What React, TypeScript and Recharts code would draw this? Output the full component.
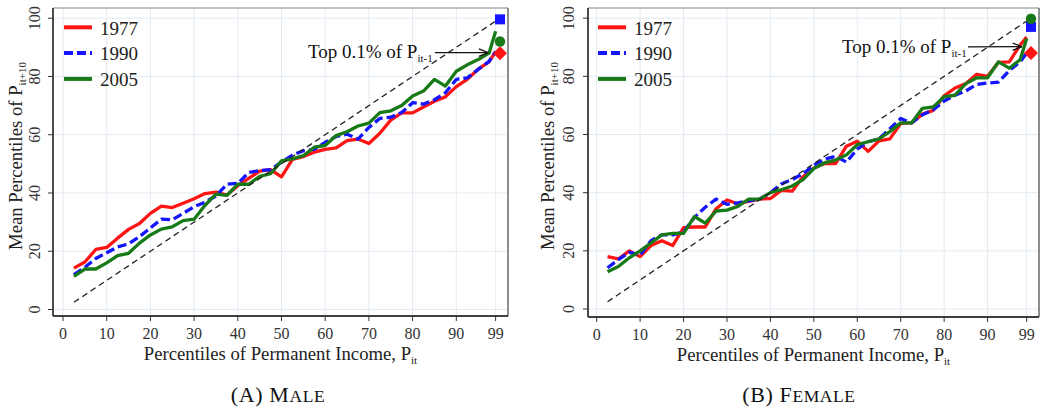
import React from 'react';
import {
  ComposedChart,
  Line,
  XAxis,
  YAxis,
  CartesianGrid,
  ReferenceLine,
  ReferenceDot,
  Legend,
  Label,
} from 'recharts';

// ---------- data ----------
const pctX = [2.5, 5, 7.5, 10, 12.5, 15, 17.5, 20, 22.5, 25, 27.5, 30, 32.5, 35, 37.5, 40, 42.5, 45, 47.5, 50,
  52.5, 55, 57.5, 60, 62.5, 65, 67.5, 70, 72.5, 75, 77.5, 80, 82.5, 85, 87.5, 90, 92.5, 95, 97.5, 99];

const male1977 = [14.2, 16.3, 20.6, 21.3, 24.5, 27.5, 29.5, 33, 35.5, 35, 36.5, 38, 39.8, 40.3, 39.3, 42.5, 45, 47.5, 48, 45.5,
  51.5, 52.5, 54, 55, 55.5, 58, 58.5, 57, 60.5, 65, 67.5, 67.5, 69.5, 71.5, 73, 76.5, 79, 82.5, 85, 88.5];
const male1990 = [12, 14.5, 17.5, 19.5, 21.5, 22.5, 25, 28, 31, 30.8, 33, 35.3, 36.8, 39, 43, 43.3, 47, 47.7, 48, 50.6,
  53, 54.5, 55, 57.4, 59.4, 60.2, 58.5, 62.5, 65.6, 66, 67.6, 71, 70.5, 72, 74.4, 79, 79.5, 82.4, 85.2, 88.5];
const male2005 = [11.4, 13.9, 13.9, 16, 18.5, 19.3, 22.8, 25.6, 27.6, 28.4, 30.5, 31, 35.8, 39.6, 39.2, 43, 43, 45.7, 46.6, 51,
  51.7, 52.8, 55.7, 56.3, 59.7, 61, 63, 64, 67.6, 68.2, 70, 73.3, 75, 79, 76.7, 81.8, 84, 85.8, 88, 95.5];

const female1977 = [18, 17.2, 20, 18, 21.8, 23.5, 21.8, 28, 28.2, 28.2, 34.5, 37.5, 36.2, 37, 37.8, 38, 40.8, 40.5, 45.5, 48.5,
  50, 50, 56, 57.7, 54.2, 57.8, 58.5, 63.8, 64, 67, 68.3, 73.3, 76, 77.5, 80.7, 80, 84.8, 85, 90.8, 93.5];
const female1990 = [14.2, 17, 19.5, 18.5, 23.5, 25.5, 25.5, 26.5, 31.5, 35, 37.8, 36, 36.5, 37.2, 37.8, 40, 43, 44.5, 46.5, 49.5,
  51.5, 52.5, 50.5, 55, 57.5, 58.5, 62, 65.5, 64, 66.8, 68.5, 71.5, 73.5, 75, 77.2, 77.7, 78, 82, 85, 88];
const female2005 = [12.8, 14.6, 17.6, 20, 22.7, 25.5, 26, 26, 31.8, 29.5, 33.7, 34, 35.3, 37.8, 37.8, 40, 41, 42.3, 44.5, 48.3,
  50.3, 51.2, 53, 56.5, 57.5, 58.5, 61, 64, 64, 69, 69.5, 73, 73.5, 77.5, 79.5, 79.5, 85, 82.8, 85.7, 93];

// top 0.1% markers: [1977, 1990, 2005]
const topX = 100;
const maleTop = [88, 99.6, 92];
const femaleTop = [88, 97, 99.8];

const years = ['1977', '1990', '2005'];
const xTicks = [0, 10, 20, 30, 40, 50, 60, 70, 80, 90, 99];
const yTicks = [0, 20, 40, 60, 80, 100];
const diagonal = [2.5, 100];

const xTitleMain = 'Percentiles of Permanent Income, P';
const xTitleSub = 'it';
const yTitleMain = 'Mean Percentiles of P';
const yTitleSub = 'it+10';
const annMain = 'Top 0.1% of P';
const annSub = 'it-1';

// ---------- styles ----------
const FONT = "'Liberation Serif', 'Times New Roman', serif";
const COLORS = ['#ff1414', '#1414ff', '#177a17'];
const DASHES = [undefined, '9 4', undefined];
const GRID = '#e3ebf2';
const AXIS = '#333';

type PanelCfg = {
  left: number;
  width: number;
  yAxisWidth: number;
  marginRight: number;
  marginBottom: number;
  xDomain: [number, number];
  yDomain: [number, number];
  yTickGap: number;
  yTitleOffset: number;
  legendLeft: number;
  ann: { tx: number; ty: number; ax1: number; ay1: number; ax2: number; ay2: number };
};

// tick marks + labels, placed by the axis scales (via ReferenceDot)
const makeXLabel = (v: number) => (props: any) => {
  const { cx, cy } = props;
  if (typeof cx !== 'number' || typeof cy !== 'number') return null;
  return (
    <g>
      <line x1={cx} y1={cy} x2={cx} y2={cy + 5} stroke={AXIS} strokeWidth={1} />
      <text x={cx} y={cy + 23} textAnchor="middle" fontSize={16} fontFamily={FONT} fill={AXIS}>
        {v}
      </text>
    </g>
  );
};

const makeYLabel = (v: number, gap: number) => (props: any) => {
  const { cx, cy } = props;
  if (typeof cx !== 'number' || typeof cy !== 'number') return null;
  const bx = cx - gap;
  return (
    <g>
      <line x1={cx - 5} y1={cy} x2={cx} y2={cy} stroke={AXIS} strokeWidth={1} />
      <g transform={`translate(${bx},${cy}) rotate(-90)`}>
        <text x={0} y={0} textAnchor="middle" fontSize={16} fontFamily={FONT} fill={AXIS}>
          {v}
        </text>
      </g>
    </g>
  );
};

const ArrowShape = (props: any) => {
  const { x1, y1, x2, y2 } = props;
  if ([x1, y1, x2, y2].some((v) => typeof v !== 'number' || isNaN(v))) return null;
  const ang = Math.atan2(y2 - y1, x2 - x1);
  const len = 10;
  const spread = 0.38;
  const hx1 = x2 - len * Math.cos(ang - spread);
  const hy1 = y2 - len * Math.sin(ang - spread);
  const hx2 = x2 - len * Math.cos(ang + spread);
  const hy2 = y2 - len * Math.sin(ang + spread);
  return (
    <g>
      <line x1={x1} y1={y1} x2={x2} y2={y2} stroke="#111" strokeWidth={1.3} />
      <line x1={hx1} y1={hy1} x2={x2} y2={y2} stroke="#111" strokeWidth={1.3} />
      <line x1={hx2} y1={hy2} x2={x2} y2={y2} stroke="#111" strokeWidth={1.3} />
    </g>
  );
};

const AnnText = (props: any) => {
  const { cx, cy } = props;
  if (typeof cx !== 'number' || typeof cy !== 'number') return null;
  return (
    <text x={cx} y={cy} textAnchor="end" fontSize={19} fontFamily={FONT} fill="#111">
      {annMain}
      <tspan fontSize={11} dy={4}>{annSub}</tspan>
    </text>
  );
};

const SquareShape = (props: any) => {
  const { cx, cy } = props;
  return <rect x={cx - 5} y={cy - 5} width={10} height={10} fill={COLORS[1]} />;
};
const CircleShape = (props: any) => {
  const { cx, cy } = props;
  return <circle cx={cx} cy={cy} r={5.2} fill={COLORS[2]} />;
};
const DiamondShape = (props: any) => {
  const { cx, cy } = props;
  const r = 7;
  return <polygon points={`${cx},${cy - r} ${cx + r},${cy} ${cx},${cy + r} ${cx - r},${cy}`} fill={COLORS[0]} />;
};

const makeLegend = () => (props: any) => {
  const payload = props.payload || [];
  return (
    <svg width={110} height={84} style={{ overflow: 'visible' }}>
      {years.map((yr, i) => {
        const entry = payload[i];
        const color = entry && entry.color ? entry.color : COLORS[i];
        const cy = 13.3 + 25.8 * i;
        return (
          <g key={yr}>
            <line x1={0} y1={cy} x2={28} y2={cy} stroke={color} strokeWidth={4} strokeDasharray={DASHES[i]} />
            <text x={36} y={cy + 7.3} fontSize={19} fontFamily={FONT} fill="#222">
              {entry && entry.value ? entry.value : yr}
            </text>
          </g>
        );
      })}
    </svg>
  );
};

const XTitle = (props: any) => {
  const vb = props.viewBox || {};
  const cx = (vb.x ?? 0) + (vb.width ?? 0) / 2;
  const y = (vb.y ?? 0) + 44;
  return (
    <text x={cx} y={y} textAnchor="middle" fontSize={18.7} fontFamily={FONT} fill="#222">
      {xTitleMain}
      <tspan fontSize={11} dy={4}>{xTitleSub}</tspan>
    </text>
  );
};

const makeYTitle = (offset: number) => (props: any) => {
  const vb = props.viewBox || {};
  const bx = (vb.x ?? 0) + (vb.width ?? 0) - offset;
  const cy = 156;
  return (
    <g transform={`translate(${bx},${cy}) rotate(-90)`}>
      <text x={0} y={0} textAnchor="middle" fontSize={18.7} fontFamily={FONT} fill="#222">
        {yTitleMain}
        <tspan fontSize={11} dy={4}>{yTitleSub}</tspan>
      </text>
    </g>
  );
};

const Panel = ({ cfg, s77, s90, s05, top }: { cfg: PanelCfg; s77: number[]; s90: number[]; s05: number[]; top: number[] }) => {
  const rows = pctX.map((x, i) => ({ x, a: s77[i], b: s90[i], c: s05[i] }));
  const series = [
    { key: 'a', name: years[0] },
    { key: 'b', name: years[1] },
    { key: 'c', name: years[2] },
  ];
  const shapes = [DiamondShape, SquareShape, CircleShape];
  return (
    <div style={{ position: 'absolute', left: cfg.left, top: 0 }}>
      <ComposedChart
        width={cfg.width}
        height={411}
        data={rows}
        margin={{ top: 8, right: cfg.marginRight, bottom: cfg.marginBottom, left: 0 }}
      >
        <CartesianGrid stroke={GRID} strokeWidth={1} />
        <XAxis
          dataKey="x"
          type="number"
          domain={cfg.xDomain}
          ticks={xTicks}
          interval={0}
          allowDataOverflow
          height={60}
          tickSize={5}
          tickLine={{ stroke: AXIS }}
          axisLine={{ stroke: AXIS, strokeWidth: 1.3 }}
          tick={false}
        >
          <Label content={XTitle} />
        </XAxis>
        <YAxis
          type="number"
          domain={cfg.yDomain}
          ticks={yTicks}
          interval={0}
          allowDataOverflow
          width={cfg.yAxisWidth}
          tickSize={5}
          tickLine={{ stroke: AXIS }}
          axisLine={{ stroke: AXIS, strokeWidth: 1.3 }}
          tick={false}
        >
          <Label content={makeYTitle(cfg.yTitleOffset)} />
        </YAxis>
        {/* grid lines */}
        {xTicks.map((t) => (
          <ReferenceLine key={'gx' + t} x={t} stroke={GRID} strokeWidth={1} ifOverflow="visible" />
        ))}
        {yTicks.map((t) => (
          <ReferenceLine key={'gy' + t} y={t} stroke={GRID} strokeWidth={1} ifOverflow="visible" />
        ))}
        {/* plot frame */}
        <ReferenceLine y={cfg.yDomain[1]} stroke="#8c8c8c" strokeWidth={1.2} ifOverflow="visible" />
        <ReferenceLine x={cfg.xDomain[1]} stroke="#555" strokeWidth={1.3} ifOverflow="visible" />
        <ReferenceLine x={cfg.xDomain[0]} stroke={AXIS} strokeWidth={1.3} ifOverflow="visible" />
        <ReferenceLine y={cfg.yDomain[0]} stroke={AXIS} strokeWidth={1.3} ifOverflow="visible" />
        {series.map((s, i) => (
          <Line
            key={s.key}
            dataKey={s.key}
            name={s.name}
            type="linear"
            stroke={COLORS[i]}
            strokeWidth={3.3}
            strokeDasharray={DASHES[i]}
            strokeLinejoin="round"
            dot={false}
            activeDot={false}
            isAnimationActive={false}
          />
        ))}
        <ReferenceLine
          segment={[
            { x: diagonal[0], y: diagonal[0] },
            { x: diagonal[1], y: diagonal[1] },
          ]}
          stroke="#222"
          strokeWidth={1.3}
          strokeDasharray="6 4"
          ifOverflow="visible"
        />
        <ReferenceLine
          segment={[
            { x: cfg.ann.ax1, y: cfg.ann.ay1 },
            { x: cfg.ann.ax2, y: cfg.ann.ay2 },
          ]}
          shape={ArrowShape}
          ifOverflow="visible"
        />
        <ReferenceDot x={cfg.ann.tx} y={cfg.ann.ty} r={0} shape={AnnText} ifOverflow="visible" />
        {top.map((v, i) => (
          <ReferenceDot key={'m' + i} x={topX} y={v} r={6} shape={shapes[i]} ifOverflow="visible" />
        ))}
        {xTicks.map((t) => (
          <ReferenceDot key={'xt' + t} x={t} y={cfg.yDomain[0]} r={0} shape={makeXLabel(t)} ifOverflow="visible" />
        ))}
        {yTicks.map((t) => (
          <ReferenceDot
            key={'yt' + t}
            x={cfg.xDomain[0]}
            y={t}
            r={0}
            shape={makeYLabel(t, cfg.yTickGap)}
            ifOverflow="visible"
          />
        ))}
        <Legend
          layout="vertical"
          align="center"
          verticalAlign="middle"
          content={makeLegend()}
          wrapperStyle={{ left: cfg.legendLeft, top: 14, width: 110, height: 84 }}
        />
      </ComposedChart>
    </div>
  );
};

const leftCfg: PanelCfg = {
  left: 0,
  width: 520,
  yAxisWidth: 53,
  marginRight: 12,
  marginBottom: 35,
  xDomain: [-2.29, 101.83],
  yDomain: [-2.23, 103.5],
  yTickGap: 13,
  yTitleOffset: 31,
  legendLeft: 64,
  ann: { tx: 84.6, ty: 86.2, ax1: 85.1, ay1: 88.2, ax2: 97.3, ay2: 88.2 },
};

const rightCfg: PanelCfg = {
  left: 522,
  width: 523,
  yAxisWidth: 66,
  marginRight: 6,
  marginBottom: 34,
  xDomain: [-2.0, 101.84],
  yDomain: [-2.75, 103.5],
  yTickGap: 14.5,
  yTitleOffset: 34,
  legendLeft: 76,
  ann: { tx: 85.2, ty: 88, ax1: 85.5, ay1: 90.1, ax2: 97.9, ay2: 90.2 },
};

const captions = [
  { x: 278, main: '(A) M', sc: 'ALE' },
  { x: 799, main: '(B) F', sc: 'EMALE' },
];

export default function App() {
  return (
    <div style={{ position: 'absolute', left: 0, top: 0, width: 1045, height: 411, background: '#fff', overflow: 'hidden' }}>
      <Panel cfg={leftCfg} s77={male1977} s90={male1990} s05={male2005} top={maleTop} />
      <Panel cfg={rightCfg} s77={female1977} s90={female1990} s05={female2005} top={femaleTop} />
      <svg width={1045} height={411} style={{ position: 'absolute', left: 0, top: 0, pointerEvents: 'none' }}>
        {captions.map((c) => (
          <text key={c.main} x={c.x} y={401.5} textAnchor="middle" fontFamily={FONT} fontSize={22} fill="#111" letterSpacing={0.6}>
            {c.main}
            <tspan fontSize={17.5}>{c.sc}</tspan>
          </text>
        ))}
      </svg>
    </div>
  );
}
